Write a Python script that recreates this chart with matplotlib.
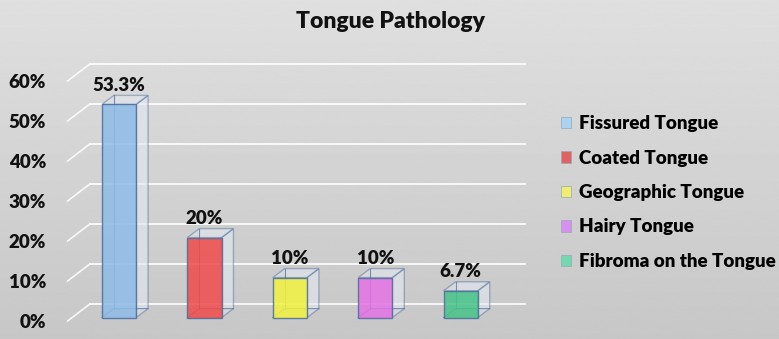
import numpy as np
import matplotlib.pyplot as plt
from matplotlib.patches import Polygon, Patch

plt.rcParams['font.family'] = ['Lato', 'DejaVu Sans']
plt.rcParams['font.weight'] = 'heavy'

# data
categories = ['Fissured Tongue', 'Coated Tongue', 'Geographic Tongue',
              'Hairy Tongue', 'Fibroma on the Tongue']
values = [53.3, 20, 10, 10, 6.7]
value_labels = ['53.3%', '20%', '10%', '10%', '6.7%']
yticks = [0, 10, 20, 30, 40, 50, 60]
ytick_labels = ['0%', '10%', '20%', '30%', '40%', '50%', '60%']

face_colors = ['#8fbbe8', '#f04a4a', '#f2f23e', '#e472e4', '#46c488']
legend_colors = ['#aad4f2', '#e06262', '#eeee70', '#d890f0', '#72d8b0']
edge_color = '#4a6c9c'

# fake 3d geometry (data units)
wall_dx, wall_dy = 0.26, 4.25     # floor/back wall depth
bar_dx, bar_dy = 0.14, 2.25       # bar depth
bar_w = 0.4
inset = 0.2                        # how far bars sit back from the front plane
x_left, x_right = -0.55, 4.55

fig = plt.figure(figsize=(7.79, 3.39), dpi=100)

# gradient background
bg = fig.add_axes([0, 0, 1, 1], zorder=-10)
grad = np.linspace(0.875, 0.78, 256).reshape(-1, 1)
bg.imshow(grad, aspect='auto', cmap='gray', vmin=0, vmax=1,
          extent=[0, 1, 0, 1], origin='upper')
bg.axis('off')

ax = fig.add_axes([60 / 779, 4 / 339, 500 / 779, 285 / 339])
ax.patch.set_alpha(0)
ax.set_xlim(-0.639, 5.215)
ax.set_ylim(-3.5, 67.75)

# back wall gridlines + left side diagonals
for t in yticks:
    ax.plot([x_left + wall_dx, x_right + wall_dx], [t + wall_dy, t + wall_dy],
            color='white', lw=1.4, alpha=0.85, zorder=1)
    ax.plot([x_left, x_left + wall_dx], [t, t + wall_dy],
            color='white', lw=1.2, alpha=0.85, zorder=1)

# bars as translucent boxes
for i, (v, fc, lab) in enumerate(zip(values, face_colors, value_labels)):
    cx = i + inset * wall_dx
    y0 = inset * wall_dy
    x0, x1 = cx - bar_w / 2, cx + bar_w / 2
    y1 = y0 + v
    dx, dy = bar_dx, bar_dy
    # back faces (faint)
    ax.add_patch(Polygon([(x0 + dx, y0 + dy), (x1 + dx, y0 + dy),
                          (x1 + dx, y1 + dy), (x0 + dx, y1 + dy)],
                         closed=True, fc='#dde3ea', alpha=0.35, ec='none', zorder=2))
    # right side and top
    ax.add_patch(Polygon([(x1, y0), (x1 + dx, y0 + dy), (x1 + dx, y1 + dy), (x1, y1)],
                         closed=True, fc='#e4e8ee', alpha=0.45, ec=edge_color,
                         lw=1.0, zorder=3))
    ax.add_patch(Polygon([(x0, y1), (x1, y1), (x1 + dx, y1 + dy), (x0 + dx, y1 + dy)],
                         closed=True, fc='#e4e8ee', alpha=0.45, ec=edge_color,
                         lw=1.0, zorder=3))
    # hidden edges
    ax.plot([x0, x0 + dx, x1 + dx], [y0, y0 + dy, y0 + dy], color=edge_color,
            lw=0.8, alpha=0.7, zorder=3)
    ax.plot([x0 + dx, x0 + dx], [y0 + dy, y1 + dy], color=edge_color,
            lw=0.8, alpha=0.7, zorder=3)
    # front face
    ax.add_patch(Polygon([(x0, y0), (x1, y0), (x1, y1), (x0, y1)],
                         closed=True, fc=fc, alpha=0.85, ec=edge_color,
                         lw=1.0, zorder=4))
    ax.text(cx, y1 + dy + 0.4, lab, ha='center', va='bottom',
            fontsize=13.5, fontweight='heavy', color='#111111', zorder=5)

ax.set_xticks([])
ax.set_yticks(yticks)
ax.set_yticklabels(ytick_labels, fontsize=13.5, fontweight='heavy', color='#111111')
ax.tick_params(axis='y', length=0, pad=10)
for s in ax.spines.values():
    s.set_visible(False)

fig.text(390 / 779, 1 - 22 / 339, 'Tongue Pathology', ha='center', va='center',
         fontsize=16.5, fontweight='heavy', color='#111111')

handles = [Patch(fc=c, ec='#9aa8b8', lw=0.5, label=n)
           for c, n in zip(legend_colors, categories)]
fig.legend(handles=handles, loc='center left', bbox_to_anchor=(561 / 779, 0.432),
           frameon=False, fontsize=13.5, handlelength=0.55, handleheight=0.55,
           handletextpad=0.4, labelspacing=0.93, borderpad=0, borderaxespad=0,
           prop={'size': 13.5, 'weight': 'heavy'})

fig.savefig('out.png', dpi=100)
